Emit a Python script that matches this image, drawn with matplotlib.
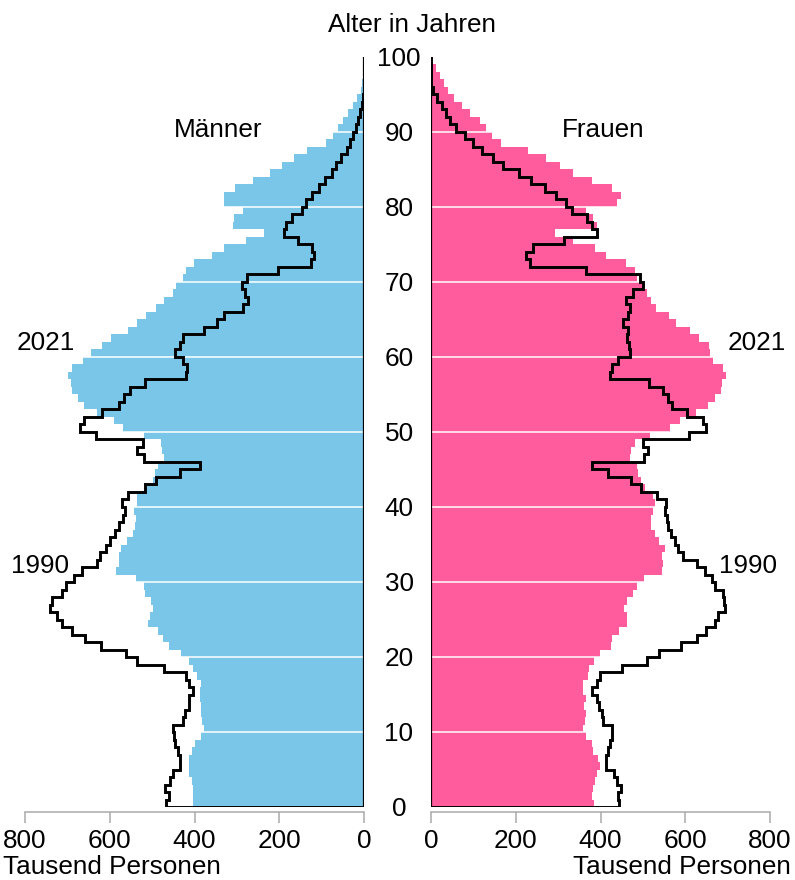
import numpy as np
import matplotlib
matplotlib.use("Agg")
from matplotlib import pyplot as plt
from matplotlib import transforms as mtransforms

plt.rcParams['font.family'] = ['Liberation Sans', 'DejaVu Sans']

# Bevoelkerung Deutschland nach Alter, in Tausend (Alter 0 bis 99)
ages = np.arange(100)

men_2021 = [404, 403, 404, 406, 412, 414, 414, 406, 399, 385,
            377, 383, 384, 384, 388, 387, 384, 395, 403, 412,
            432, 459, 475, 487, 509, 505, 498, 503, 517, 520,
            538, 585, 577, 579, 574, 560, 544, 540, 538, 542,
            536, 535, 517, 498, 493, 485, 472, 476, 479, 519,
            569, 589, 630, 660, 676, 689, 691, 699, 689, 662,
            644, 619, 597, 557, 536, 514, 491, 471, 450, 443,
            426, 421, 401, 359, 330, 278, 236, 310, 306, 286,
            330, 330, 304, 263, 223, 194, 165, 134, 90, 74,
            61, 50, 37, 27, 17, 8, 4, 3, 2, 1]

men_1990 = [467, 459, 469, 458, 451, 434, 434, 438, 446, 448,
            450, 428, 422, 414, 412, 404, 412, 420, 472, 535,
            561, 620, 658, 689, 713, 724, 741, 737, 713, 703,
            685, 666, 630, 623, 608, 600, 587, 578, 568, 564,
            570, 557, 517, 491, 434, 387, 520, 535, 522, 632,
            671, 660, 619, 579, 566, 552, 517, 420, 418, 426,
            447, 434, 428, 377, 347, 330, 285, 273, 280, 288,
            275, 202, 125, 119, 123, 156, 188, 183, 171, 146,
            136, 123, 107, 91, 75, 65, 54, 40, 32, 26,
            18, 13, 9, 5, 2, 1, 0, 0, 0, 0]

women_2021 = [384, 379, 383, 387, 391, 399, 395, 383, 379, 366,
              358, 363, 366, 362, 366, 359, 359, 371, 373, 384,
              399, 424, 428, 444, 463, 463, 455, 463, 477, 487,
              502, 546, 548, 546, 552, 537, 528, 520, 518, 524,
              528, 524, 505, 495, 489, 485, 469, 471, 481, 517,
              565, 587, 625, 654, 670, 684, 686, 696, 688, 666,
              658, 656, 633, 612, 578, 562, 531, 520, 510, 502,
              487, 481, 460, 414, 387, 334, 292, 391, 383, 365,
              438, 448, 428, 381, 336, 304, 271, 228, 165, 145,
              129, 116, 92, 72, 54, 41, 31, 21, 12, 5]

women_1990 = [443, 441, 448, 438, 432, 414, 413, 417, 422, 428,
              428, 406, 403, 397, 391, 381, 391, 399, 450, 510,
              538, 591, 627, 649, 670, 678, 693, 691, 688, 670,
              664, 646, 627, 595, 583, 575, 566, 560, 556, 552,
              554, 534, 495, 471, 418, 379, 502, 513, 501, 609,
              649, 641, 603, 568, 560, 548, 515, 422, 426, 442,
              469, 468, 463, 465, 454, 465, 469, 460, 477, 501,
              493, 365, 233, 224, 241, 314, 391, 381, 367, 332,
              318, 296, 269, 237, 208, 171, 147, 120, 100, 80,
              59, 45, 35, 25, 15, 5, 0, 0, 0, 0]

x_ticks = [0, 200, 400, 600, 800]
y_ticks = [0, 10, 20, 30, 40, 50, 60, 70, 80, 90, 100]

BLUE = '#7AC6E8'
PINK = '#FF5C9E'
GRAY = '#AAAAAA'
W, H = 795, 880
FS = 18.8


def step_outline(vals):
    v = np.asarray(vals, dtype=float)
    ys = np.repeat(np.arange(len(v) + 1), 2)
    xs = np.concatenate([[0], np.repeat(v, 2), [0]])
    return xs, ys


fig = plt.figure(figsize=(W / 100, H / 100), dpi=100)
ax_l = fig.add_axes([25 / W, (H - 807) / H, 339 / W, 750 / H])
ax_r = fig.add_axes([431 / W, (H - 807) / H, 339 / W, 750 / H])

for ax, now, then, col in [(ax_l, men_2021, men_1990, BLUE),
                           (ax_r, women_2021, women_1990, PINK)]:
    ax.barh(ages, now, height=1, align='edge', color=col, linewidth=0, zorder=1)
    for a in y_ticks[1:-1]:
        ax.axhline(a, color='white', lw=1.1, zorder=2)
    xs, ys = step_outline(then)
    ax.plot(xs, ys, color='black', lw=2.1, zorder=3, solid_joinstyle='miter')
    ax.plot([0, 0], [0, 100], color='black', lw=1.6, zorder=4)
    ax.set_ylim(0, 100)
    ax.set_yticks([])
    for s in ['top', 'left', 'right']:
        ax.spines[s].set_visible(False)
    ax.spines['bottom'].set_position(('outward', 3.6))
    ax.spines['bottom'].set_color(GRAY)
    ax.spines['bottom'].set_linewidth(1.1)
    ax.set_xticks(x_ticks)
    ax.tick_params(axis='x', direction='out', length=8, width=1.1, color=GRAY,
                   labelsize=FS, labelcolor='black', pad=4)
    ax.patch.set_visible(False)

ax_l.set_xlim(800, 0)
ax_r.set_xlim(0, 800)

# Altersbeschriftung in der Mitte
trans = mtransforms.blended_transform_factory(fig.transFigure, ax_l.transData)
trans = mtransforms.offset_copy(trans, fig, y=-9, units='dots')
for a in y_ticks:
    ax_l.text(399 / W, a, str(a), transform=trans, ha='center', va='baseline',
              fontsize=FS, clip_on=False)


def ftext(x, y, s, ha='center', va='baseline'):
    fig.text(x / W, 1 - y / H, s, ha=ha, va=va, fontsize=FS)


ftext(412, 32, 'Alter in Jahren')
ftext(218, 137, 'Männer')
ftext(603, 137, 'Frauen')
ftext(46, 350, '2021')
ftext(757, 350, '2021')
ftext(40, 573, '1990')
ftext(748, 573, '1990')
ftext(3, 879, 'Tausend Personen', ha='left', va='bottom')
ftext(791, 879, 'Tausend Personen', ha='right', va='bottom')

fig.savefig('out.png', dpi=100)
